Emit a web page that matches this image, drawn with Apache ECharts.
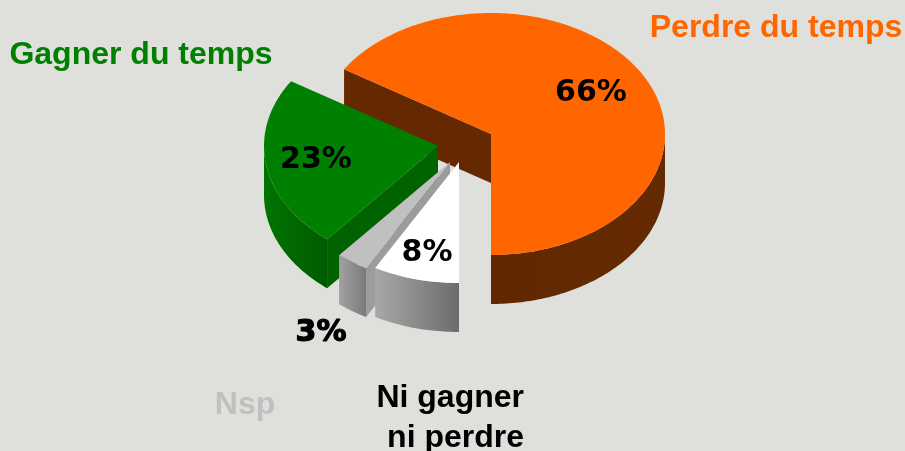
<!DOCTYPE html>
<html>
<head>
<meta charset="utf-8">
<style>html,body{margin:0;padding:0;background:#dfe0db}#c{width:905px;height:451px}</style>
<script src="https://cdn.jsdelivr.net/npm/echarts@6/dist/echarts.min.js"></script>
</head>
<body>
<div id="c"></div>
<script>
// Data (counter-clockwise from the bottom of the pie)
const categories = ['Perdre du temps', 'Gagner du temps', 'Nsp', 'Ni gagner\n ni perdre'];
const values = [66, 23, 3, 8];
const percentLabels = ['66%', '23%', '3%', '8%'];

// Appearance
const RX = 174, RY = 121, DEPTH = 49;
const apexes = [[491, 134], [438, 146], [450, 162], [459, 162]];
const topColors = ['#ff6600', '#008000', '#c0c0c0', '#ffffff'];
const cutColors = ['#642900', '#006300', '#9c9c9c', '#a0a0a0'];
const wallStops = [
  ['#652a00', '#612800'],
  ['#007400', '#005a00'],
  ['#a2a2a2', '#7a7a7a'],
  ['#a8a8a8', '#6c6c6c']
];
const nameColors = ['#ff6600', '#008000', '#c0c0c0', '#000000'];
const namePos = [[776, 28], [141, 55], [245, 405], [524, 418]];
const nameAlign = ['center', 'center', 'center', 'right'];
const pctPos = [[591, 93], [316, 160], [321, 333], [427, 253]];
const pctStroke = [0, 0, 1.2, 0];

const total = values.reduce((a, b) => a + b, 0);
const toAngle = v => echarts.number.linearMap(v, [0, total], [0, 360]);
const cumulative = values.map((_, i) => values.slice(0, i).reduce((a, b) => a + b, 0));

function rim(apex, deg, dy) {
  const r = deg * Math.PI / 180;
  return [apex[0] + RX * Math.sin(r), apex[1] + RY * Math.cos(r) + (dy || 0)];
}
function arc(apex, from, to, dy) {
  const pts = [];
  const n = Math.max(2, Math.ceil(Math.abs(to - from)));
  for (let k = 0; k <= n; k++) pts.push(rim(apex, from + (to - from) * k / n, dy));
  return pts;
}

function renderItem(params, api) {
  const i = params.dataIndex;
  const apex = apexes[i];
  const a0 = toAngle(api.value(1));
  const a1 = a0 + toAngle(api.value(0));
  const children = [];
  // cut face at the far end of the slice
  const e = rim(apex, a1);
  children.push({
    type: 'polygon',
    shape: { points: [apex, e, [e[0], e[1] + DEPTH], [apex[0], apex[1] + DEPTH]] },
    style: { fill: cutColors[i] }
  });
  // outer wall: only the front part of the rim shows
  [[0, 90], [270, 360]].forEach(function (win) {
    const from = Math.max(a0, win[0]), to = Math.min(a1, win[1]);
    if (to <= from) return;
    children.push({
      type: 'polygon',
      shape: { points: arc(apex, from, to, 0).concat(arc(apex, to, from, DEPTH)) },
      style: {
        fill: {
          type: 'linear', x: 0, y: 0, x2: 1, y2: 0,
          colorStops: [
            { offset: 0, color: wallStops[i][win[0] === 0 ? 1 : 0] },
            { offset: 1, color: wallStops[i][win[0] === 0 ? 0 : 1] }
          ]
        }
      }
    });
  });
  // top surface
  children.push({
    type: 'polygon',
    shape: { points: [apex].concat(arc(apex, a0, a1, 0)) },
    style: { fill: topColors[i] }
  });
  return { type: 'group', children: children };
}

function renderLabels(params, api) {
  const i = params.dataIndex;
  return {
    type: 'group',
    children: [
      {
        type: 'text', x: pctPos[i][0], y: pctPos[i][1],
        style: {
          text: percentLabels[i], fill: '#000', align: 'center', verticalAlign: 'middle',
          font: 'bold 30px "DejaVu Sans"', stroke: '#000', lineWidth: pctStroke[i]
        }
      },
      {
        type: 'text', x: namePos[i][0], y: namePos[i][1],
        style: {
          text: categories[i], fill: nameColors[i], align: nameAlign[i], verticalAlign: 'middle',
          font: 'bold 32px "Liberation Sans"', lineHeight: 40
        }
      }
    ]
  };
}

const seriesData = values.map((v, i) => [v, cumulative[i]]);
const chart = echarts.init(document.getElementById('c'), null, { renderer: 'canvas' });
chart.setOption({
  animation: false,
  backgroundColor: '#dfe0db',
  series: [
    { type: 'custom', coordinateSystem: 'none', renderItem: renderItem, data: seriesData, silent: true, z: 1 },
    { type: 'custom', coordinateSystem: 'none', renderItem: renderLabels, data: seriesData, silent: true, z: 2 }
  ]
});
</script>
</body>
</html>
